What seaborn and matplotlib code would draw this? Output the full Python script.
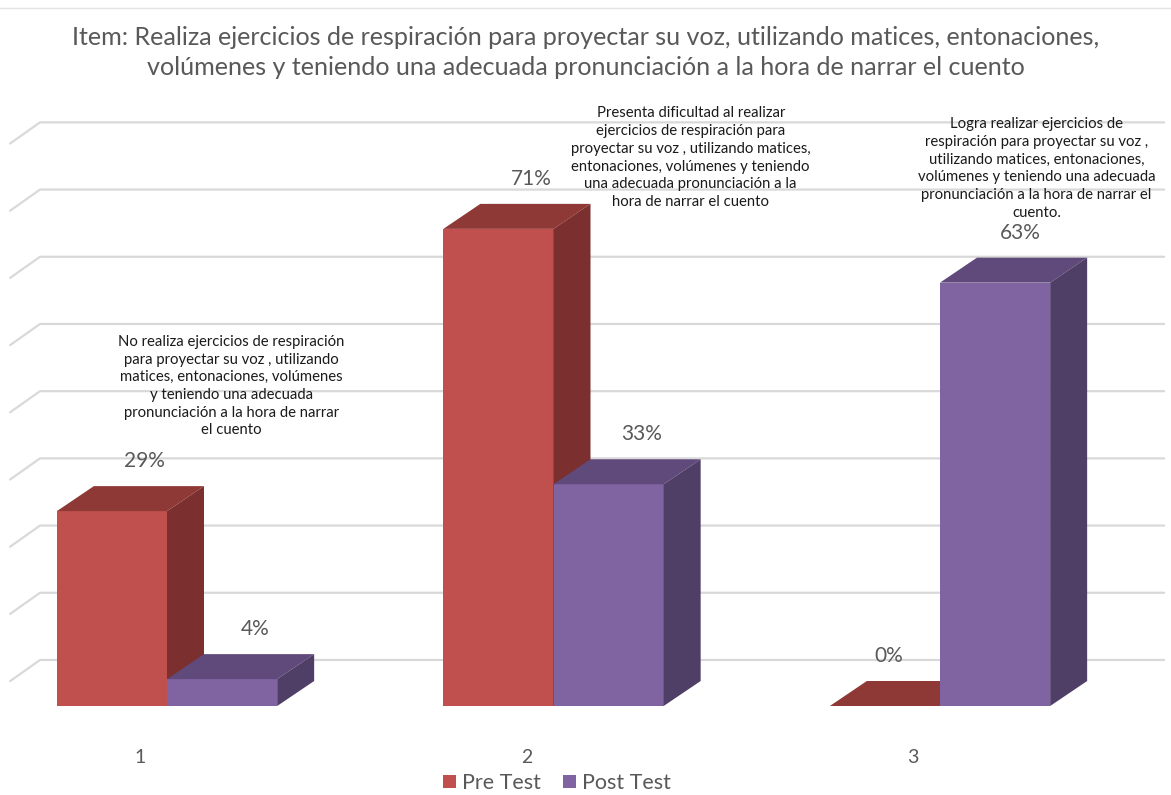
import pandas as pd
import seaborn as sns
import matplotlib.pyplot as plt
from matplotlib.patches import Polygon
from matplotlib.lines import Line2D

# ---- data ----
categories = ["1", "2", "3"]
series = ["Pre Test", "Post Test"]
pre_test = [29, 71, 0]
post_test = [4, 33, 63]

title = ("Item: Realiza ejercicios de respiración para proyectar su voz, utilizando matices, entonaciones,\n"
         "volúmenes y teniendo una adecuada pronunciación a la hora de narrar el cuento")

notes = [
    "No realiza ejercicios de respiración\npara proyectar su voz , utilizando\nmatices, entonaciones, volúmenes\n"
    "y teniendo una adecuada\npronunciación a la hora de narrar\nel cuento",
    "Presenta dificultad al realizar\nejercicios de respiración para\nproyectar su voz , utilizando matices,\n"
    "entonaciones, volúmenes y teniendo\nuna adecuada pronunciación a la\nhora de narrar el cuento",
    "Logra realizar ejercicios de\nrespiración para proyectar su voz ,\nutilizando matices, entonaciones,\n"
    "volúmenes y teniendo una adecuada\npronunciación a la hora de narrar el\ncuento.",
]
# where each note sits (offset from group centre in x, y in %)
note_pos = [(0.166, 47.6), (0.355, 81.6), (0.25, 80.0)]
# small horizontal nudges of the % labels (per series, per group)
label_nudge = [[0, 0, -0.075], [0, 0, -0.02]]

front = {"Pre Test": "#C0504D", "Post Test": "#8064A2"}
top = {"Pre Test": "#8F3937", "Post Test": "#604A7B"}
side = {"Pre Test": "#7B2F2E", "Post Test": "#4F3E66"}
grey = "#595959"

df = pd.DataFrame({
    "grupo": categories * 2,
    "serie": [series[0]] * 3 + [series[1]] * 3,
    "valor": pre_test + post_test,
})

sns.set_theme(style="white")
plt.rcParams["font.family"] = ["Lato", "DejaVu Sans"]

fig = plt.figure(figsize=(11.71, 7.95), dpi=100)
ax = fig.add_axes([0, 0, 1, 1])

sns.barplot(data=df, x="grupo", y="valor", hue="serie", hue_order=series,
            palette=front, width=0.57, saturation=1, ax=ax, linewidth=0)

# pixel scale of the picture
px_x = 386.5
px_y = 6.72
ax.set_xlim(-167 / px_x, (1171 - 167) / px_x)
ax.set_ylim(-(795 - 706) / px_y, 706 / px_y)
ax.axis("off")

dx = 37 / px_x
dy = 25 / px_y

######## back wall gridlines ########
for t in range(0, 90, 10):
    yf = t + 3.7
    yb = t + 6.85
    ax.add_line(Line2D([-0.406, -0.3286, 2.58], [yf, yb, yb], color="#D9D9D9", lw=1.6, zorder=1))

######## fake 3d faces ########
for i, (cont, s) in enumerate(zip(ax.containers, series)):
    z = 3 + i
    for j, bar in enumerate(cont):
        x0 = bar.get_x()
        w = bar.get_width()
        h = bar.get_height()
        bar.set_zorder(z)
        ax.add_patch(Polygon([(x0, h), (x0 + w, h), (x0 + w + dx, h + dy), (x0 + dx, h + dy)],
                             closed=True, facecolor=top[s], edgecolor="none", zorder=z))
        if h > 0:
            ax.add_patch(Polygon([(x0 + w, 0), (x0 + w, h), (x0 + w + dx, h + dy), (x0 + w + dx, dy)],
                                 closed=True, facecolor=side[s], edgecolor="none", zorder=z))
        ax.text(x0 + w / 2 + 0.085 + label_nudge[i][j], h + dy + 3.7, f"{h:.0f}%",
                ha="center", va="center", fontsize=15, color=grey, zorder=6)

for j, (cat, note) in enumerate(zip(categories, notes)):
    ax.text(j + note_pos[j][0], note_pos[j][1], note, ha="center", va="center",
            fontsize=10.7, color="#1a1a1a", linespacing=1.34, zorder=6)
    ax.text(j - 0.07, -7.6, cat, ha="center", va="center", fontsize=14, color=grey)

sns.move_legend(ax, "center", bbox_to_anchor=(557 / 1171, 12 / 795), ncol=2, frameon=False,
                title=None, fontsize=15.5, handlelength=0.6, handleheight=0.6,
                columnspacing=1.0, handletextpad=0.3)
for txt in ax.get_legend().get_texts():
    txt.set_color(grey)

fig.text(0.5, 1 - 52.5 / 795, title, ha="center", va="center", fontsize=18.1, color=grey, linespacing=1.4)
fig.add_artist(Line2D([0, 1], [1 - 8 / 795] * 2, color="#E3E3E3", lw=1))

plt.savefig("out.png", dpi=100)
